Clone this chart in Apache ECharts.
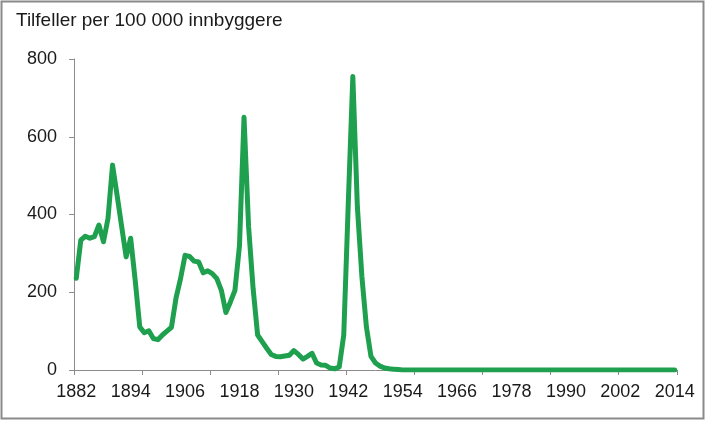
<!DOCTYPE html>
<html>
<head>
<meta charset="utf-8">
<script src="https://cdn.jsdelivr.net/npm/echarts@6/dist/echarts.min.js"></script>
<style>
html,body{margin:0;padding:0;background:#fff;}
#c{width:706px;height:424px;}
</style>
</head>
<body>
<div id="c"></div>
<script>
const startYear = 1882;
const endYear = 2014;
const yTitle = 'Tilfeller per 100 000 innbyggere';
const yTicks = [0, 200, 400, 600, 800];

// Cases per 100 000 inhabitants, 1882 ... 1953; later years are 0
const valuesEarly = [
  236, 334, 344, 339, 343, 373, 330, 390, 527, 450,   // 1882-1891
  370, 291, 339, 230, 111, 96, 101, 81, 78, 90,       // 1892-1901
  100, 110, 185, 235, 295, 292, 280, 278, 250, 255,   // 1902-1911
  248, 235, 205, 148, 175, 205, 320, 650, 370, 210,   // 1912-1921
  90, 73, 56, 40, 35, 34, 36, 38, 50, 40,             // 1922-1931
  28, 35, 43, 18, 13, 12, 5, 3, 8, 90,                // 1932-1941
  430, 755, 420, 240, 110, 35, 18, 10, 5, 3,          // 1942-1951
  2, 1                                                 // 1952-1953
];
const valuesLate = [
  0,0,0,0,0,0,0,0,0,0, 0,0,0,0,0,0,0,0,0,0,
  0,0,0,0,0,0,0,0,0,0, 0,0,0,0,0,0,0,0,0,0,
  0,0,0,0,0,0,0,0,0,0, 0,0,0,0,0,0,0,0,0,0, 0
]; // 1954-2014

const years = [];
for (let y = startYear; y <= endYear; y++) years.push(String(y));
const values = valuesEarly.concat(valuesLate);

const FONT = 'Liberation Sans, Arial, sans-serif';
const chart = echarts.init(document.getElementById('c'), null, {renderer: 'canvas'});
chart.setOption({
  animation: false,
  backgroundColor: '#ffffff',
  textStyle: {fontFamily: FONT},
  graphic: [
    {type: 'rect', shape: {x: 1.5, y: 1.5, width: 702, height: 417},
     style: {fill: 'none', stroke: '#8a8a8a', lineWidth: 2}, silent: true},
    {type: 'text', left: 16, top: 11,
     style: {text: yTitle, fontSize: 19, fill: '#1a1a1a', fontFamily: FONT}}
  ],
  grid: {left: 74, right: 29, top: 59, bottom: 54, containLabel: false},
  xAxis: {
    type: 'category',
    data: years,
    boundaryGap: true,
    axisLine: {show: true, lineStyle: {color: '#8c8c8c', width: 1}},
    axisTick: {show: true, interval: 14, length: 5, lineStyle: {color: '#8c8c8c'}},
    axisLabel: {interval: 11, fontSize: 18, color: '#1a1a1a', margin: 13},
    splitLine: {show: false}
  },
  yAxis: {
    type: 'value',
    min: yTicks[0],
    max: yTicks[yTicks.length - 1],
    interval: 200,
    axisLine: {show: true, lineStyle: {color: '#8c8c8c', width: 1}},
    axisTick: {show: true, length: 5, lineStyle: {color: '#8c8c8c'}},
    axisLabel: {fontSize: 18, color: '#1a1a1a', margin: 17},
    splitLine: {show: false}
  },
  series: [{
    type: 'line',
    data: values,
    symbol: 'none',
    lineStyle: {color: '#1ea04f', width: 5, join: 'round', cap: 'round'},
    itemStyle: {color: '#1ea04f'}
  }]
});
</script>
</body>
</html>
